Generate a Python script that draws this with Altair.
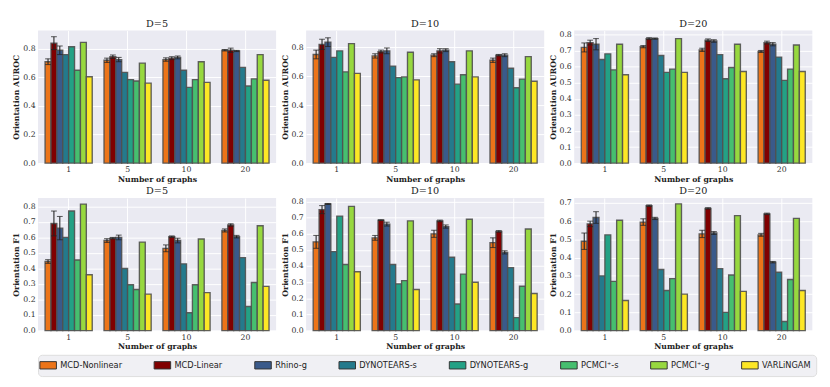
import altair as alt
import pandas as pd

methods = ["MCD-Nonlinear", "MCD-Linear", "Rhino-g", "DYNOTEARS-s",
           "DYNOTEARS-g", "PCMCI⁺-s", "PCMCI⁺-g", "VARLiNGAM"]
colors = ["#EC7419", "#800000", "#3A5A8A", "#247A8C", "#23A185",
          "#46BF6F", "#97D83F", "#FDE725"]
graphs = ["1", "5", "10", "20"]

# values per graph group (1, 5, 10, 20), one per method
auroc_d5 = [[0.71, 0.84, 0.79, 0.76, 0.815, 0.65, 0.845, 0.605],
            [0.72, 0.745, 0.725, 0.635, 0.585, 0.575, 0.70, 0.56],
            [0.725, 0.735, 0.74, 0.65, 0.53, 0.585, 0.71, 0.565],
            [0.79, 0.79, 0.785, 0.67, 0.54, 0.59, 0.76, 0.58]]
auroc_d5_err = [[0.02, 0.045, 0.03], [0.015, 0.012, 0.015],
                [0.012, 0.01, 0.01], [0.005, 0.015, 0.004]]

auroc_d10 = [[0.75, 0.82, 0.835, 0.73, 0.775, 0.63, 0.825, 0.62],
             [0.74, 0.77, 0.775, 0.67, 0.59, 0.595, 0.765, 0.575],
             [0.745, 0.775, 0.78, 0.70, 0.545, 0.61, 0.775, 0.595],
             [0.71, 0.745, 0.745, 0.655, 0.52, 0.58, 0.735, 0.565]]
auroc_d10_err = [[0.03, 0.035, 0.03], [0.015, 0.01, 0.02],
                 [0.01, 0.015, 0.01], [0.015, 0.005, 0.01]]

auroc_d20 = [[0.72, 0.75, 0.74, 0.645, 0.68, 0.58, 0.74, 0.55],
             [0.725, 0.775, 0.775, 0.67, 0.565, 0.585, 0.775, 0.565],
             [0.705, 0.765, 0.76, 0.675, 0.525, 0.595, 0.74, 0.57],
             [0.695, 0.75, 0.74, 0.66, 0.515, 0.585, 0.735, 0.57]]
auroc_d20_err = [[0.028, 0.015, 0.035], [0.007, 0.006, 0.004],
                 [0.01, 0.008, 0.008], [0.006, 0.009, 0.01]]

f1_d5 = [[0.445, 0.69, 0.66, 0.60, 0.77, 0.455, 0.815, 0.36],
         [0.58, 0.595, 0.60, 0.40, 0.295, 0.265, 0.57, 0.235],
         [0.53, 0.605, 0.58, 0.43, 0.115, 0.295, 0.59, 0.245],
         [0.645, 0.68, 0.605, 0.47, 0.155, 0.31, 0.675, 0.285]]
f1_d5_err = [[0.012, 0.08, 0.075], [0.012, 0.005, 0.015],
             [0.022, 0.005, 0.015], [0.01, 0.008, 0.008]]

f1_d10 = [[0.55, 0.75, 0.785, 0.49, 0.71, 0.41, 0.77, 0.365],
          [0.575, 0.685, 0.66, 0.41, 0.29, 0.31, 0.68, 0.255],
          [0.60, 0.68, 0.645, 0.455, 0.165, 0.35, 0.69, 0.30],
          [0.545, 0.615, 0.485, 0.39, 0.08, 0.275, 0.63, 0.23]]
f1_d10_err = [[0.04, 0.025, 0.003], [0.015, 0.002, 0.012],
              [0.022, 0.005, 0.01], [0.03, 0.005, 0.01]]

f1_d20 = [[0.49, 0.585, 0.62, 0.30, 0.525, 0.27, 0.605, 0.165],
          [0.595, 0.685, 0.615, 0.335, 0.22, 0.285, 0.695, 0.20],
          [0.53, 0.67, 0.535, 0.34, 0.10, 0.305, 0.63, 0.215],
          [0.525, 0.64, 0.375, 0.32, 0.05, 0.28, 0.615, 0.22]]
f1_d20_err = [[0.045, 0.015, 0.032], [0.018, 0.004, 0.006],
              [0.02, 0.004, 0.008], [0.008, 0.004, 0.004]]

W, H = 246, 137


def panel(vals, errs, title, ytitle, ymax, yticks):
    rows, erows = [], []
    for gi, g in enumerate(graphs):
        for mi, m in enumerate(methods):
            v = vals[gi][mi]
            rows.append({"graphs": g, "method": m, "value": v})
            if mi < len(errs[gi]):
                e = errs[gi][mi]
                erows.append({"graphs": g, "method": m, "lo": v - e, "hi": v + e})
    df = pd.DataFrame(rows)
    edf = pd.DataFrame(erows)
    x = alt.X("graphs:N", sort=graphs, title="Number of graphs",
              scale=alt.Scale(paddingInner=0.2, paddingOuter=0.12),
              axis=alt.Axis(labelAngle=0, grid=True, bandPosition=0.5))
    xo = alt.XOffset("method:N", sort=methods,
                     scale=alt.Scale(paddingInner=0, paddingOuter=0))
    yscale = alt.Scale(domain=[0, ymax], nice=False, zero=True)
    yaxis = alt.Axis(values=yticks, format=".1f", labelOverlap=False)
    bars = alt.Chart(df).mark_bar(stroke="#505050", strokeWidth=1.4, strokeOpacity=0.9).encode(
        x=x, xOffset=xo,
        y=alt.Y("value:Q", scale=yscale, title=ytitle, axis=yaxis),
        color=alt.Color("method:N", sort=methods,
                        scale=alt.Scale(domain=methods, range=colors),
                        legend=alt.Legend(title=None)),
    )
    rule = alt.Chart(edf).mark_rule(color="#222222", strokeWidth=1.1).encode(
        x=x, xOffset=xo, y=alt.Y("lo:Q", scale=yscale, title=ytitle, axis=yaxis), y2="hi:Q")
    caps = alt.Chart(edf).transform_fold(["lo", "hi"], as_=["k", "cap"]).mark_tick(
        color="#222222", size=6, thickness=1.1).encode(
        x=x, xOffset=xo, y=alt.Y("cap:Q", scale=yscale, title=ytitle, axis=yaxis))
    return alt.layer(bars, rule, caps).properties(
        width=W, height=H, title=alt.TitleParams(title))


t2 = [0, 0.2, 0.4, 0.6, 0.8]
t1_8 = [0, 0.1, 0.2, 0.3, 0.4, 0.5, 0.6, 0.7, 0.8]
t1_7 = [0, 0.1, 0.2, 0.3, 0.4, 0.5, 0.6, 0.7]

p1 = panel(auroc_d5, auroc_d5_err, "D=5", "Orientation AUROC", 0.928, t2)
p2 = panel(auroc_d10, auroc_d10_err, "D=10", "Orientation AUROC", 0.915, t2)
p3 = panel(auroc_d20, auroc_d20_err, "D=20", "Orientation AUROC", 0.825, t1_8)
p4 = panel(f1_d5, f1_d5_err, "D=5", "Orientation F1", 0.854, t1_8)
p5 = panel(f1_d10, f1_d10_err, "D=10", "Orientation F1", 0.822, t1_8)
p6 = panel(f1_d20, f1_d20_err, "D=20", "Orientation F1", 0.727, t1_7)

chart = alt.vconcat(
    alt.hconcat(p1, p2, p3, spacing=5),
    alt.hconcat(p4, p5, p6, spacing=5),
    spacing=2,
).configure_view(
    fill="#EAEAF2", stroke=None
).configure_axis(
    gridColor="white", gridWidth=1, gridOpacity=1, domain=False, ticks=False,
    labelFont="DejaVu Serif", labelFontSize=8, labelColor="#333333",
    titleFont="DejaVu Serif", titleFontSize=8, titleFontWeight="bold",
    titleColor="#222222", labelPadding=3, titlePadding=2,
).configure_title(
    font="DejaVu Serif", fontSize=10, fontWeight="normal", color="#222222", offset=2
).configure_legend(
    orient="bottom", direction="horizontal", columns=8,
    labelFont="DejaVu Sans", labelFontSize=8.5, labelColor="#222222",
    symbolType="M-1.8,-0.8H1.8V0.8H-1.8Z", symbolSize=90,
    symbolStrokeColor="#333333", symbolStrokeWidth=1, symbolOpacity=1,
    fillColor="#F0F0F4", strokeColor="#DDDDDD", cornerRadius=4,
    padding=5, columnPadding=30, offset=4, labelOffset=7,
)

chart.save("out.html", embed_options={"renderer": "svg", "actions": False})
